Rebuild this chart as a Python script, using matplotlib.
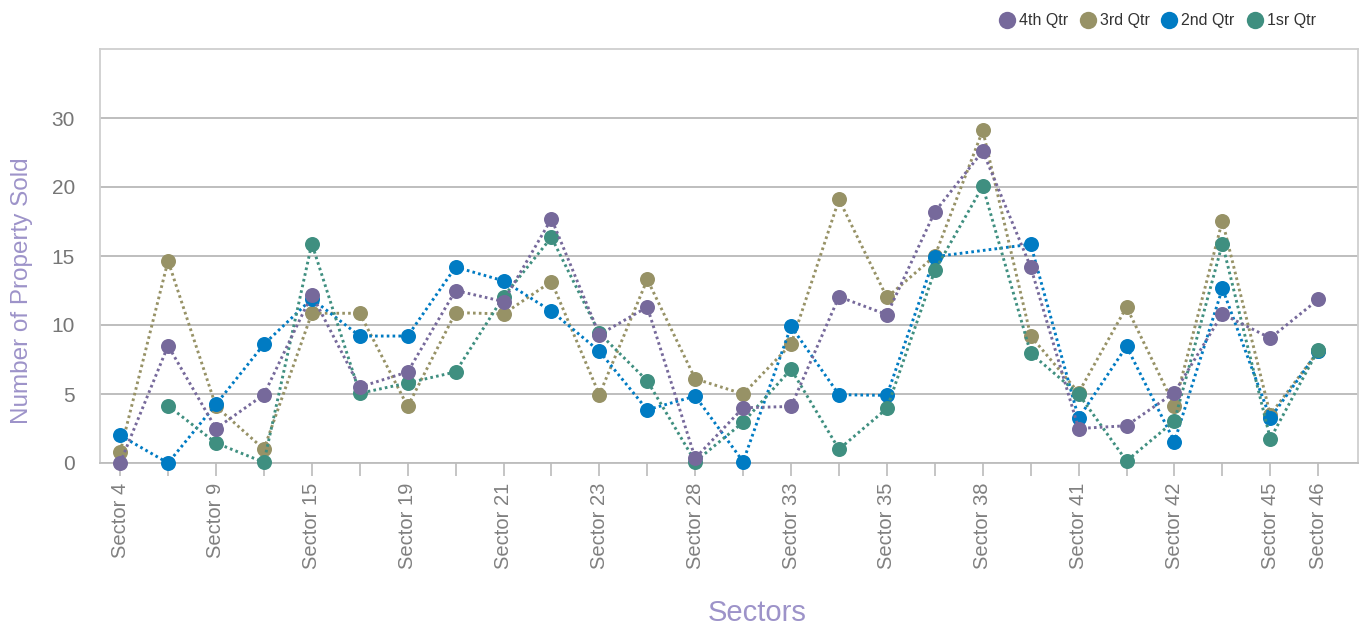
import numpy as np
import matplotlib
matplotlib.use("Agg")
import matplotlib.pyplot as plt
from matplotlib.lines import Line2D

# 26 sectors, only every other label is printed on the axis (plus the last one)
sector_labels = ["Sector 4", "", "Sector 9", "", "Sector 15", "", "Sector 19", "",
                 "Sector 21", "", "Sector 23", "", "Sector 28", "", "Sector 33", "",
                 "Sector 35", "", "Sector 38", "", "Sector 41", "", "Sector 42", "",
                 "Sector 45", "Sector 46"]

nan = np.nan
q4 = [0.0, 8.5, 2.5, 4.95, 12.2, 5.5, 6.6, 12.5, 11.7, 17.7, 9.3, 11.3, 0.35,
      4.0, 4.1, 12.05, 10.75, 18.2, 22.6, 14.2, 2.5, 2.7, 5.1, 10.8, 9.05, 11.85]
q3 = [0.8, 14.65, 4.1, 1.0, 10.85, 10.85, 4.1, 10.9, 10.8, 13.15, 4.95, 13.3, 6.1,
      5.0, 8.6, 19.1, 12.0, 15.0, 24.1, 9.2, 5.1, 11.3, 4.15, 17.55, 3.5, 8.1]
q2 = [2.0, 0.0, 4.25, 8.6, 11.9, 9.2, 9.2, 14.2, 13.2, 11.0, 8.1, 3.85, 4.85,
      0.1, 9.9, 4.95, 4.9, 14.95, nan, 15.85, 3.25, 8.45, 1.55, 12.65, 3.25, 8.1]
q1 = [nan, 4.15, 1.45, 0.05, 15.9, 5.05, 5.8, 6.6, 12.05, 16.35, 9.4, 5.95, 0.1,
      2.95, 6.8, 1.0, 3.95, 13.95, 20.05, 7.95, 5.0, 0.15, 3.05, 15.9, 1.75, 8.2]

series_names = ["4th Qtr", "3rd Qtr", "2nd Qtr", "1sr Qtr"]
series_colors = ["#76699b", "#979266", "#007bc3", "#3f8f80"]

ytick_vals = [0, 5, 10, 15, 20, 25]
ytick_text = ["0", "5", "10", "15", "20", "30"]

plt.rcParams["font.family"] = ["Liberation Sans", "DejaVu Sans"]

fig = plt.figure(figsize=(13.61, 6.26), dpi=100)
ax = fig.add_axes([100 / 1361, 1 - 463 / 626, 1258 / 1361, 414 / 626])

x = np.arange(len(sector_labels))
data = {"4th Qtr": q4, "3rd Qtr": q3, "2nd Qtr": q2, "1sr Qtr": q1}
colors = dict(zip(series_names, series_colors))

# draw order: olive, blue, teal, purple on top
for name in ["3rd Qtr", "2nd Qtr", "1sr Qtr", "4th Qtr"]:
    y = np.array(data[name], dtype=float)
    ok = ~np.isnan(y)  # missing points are skipped, line joins neighbours
    ax.plot(x[ok], y[ok], color=colors[name], linestyle=(0, (0.9, 1.1)), linewidth=2.1,
            marker="o", markersize=10.8, markeredgewidth=0, zorder=3, clip_on=False)

ax.set_xlim(-0.42, 25.83)
ax.set_ylim(0, 30)
ax.set_yticks(ytick_vals)
ax.set_yticklabels(ytick_text)
ax.set_xticks(x)
ax.set_xticklabels(sector_labels, rotation=90)

ax.grid(axis="y", color="#b9b9b9", linewidth=1.3, zorder=1)
for s in ax.spines.values():
    s.set_color("#cfcfcf")
    s.set_linewidth(1.3)
ax.spines["bottom"].set_color("#bdbdbd")
ax.tick_params(axis="y", length=0, pad=18, labelsize=15, labelcolor="#767676")
ax.tick_params(axis="x", length=9, width=1.1, color="#b5b5b5", pad=5,
               labelsize=14.5, labelcolor="#808080")

fig.text(22 / 1361, 1 - 291 / 626, "Number of Property Sold", rotation=90,
         ha="center", va="center", fontsize=17.5, color="#9d93c9")
fig.text(757 / 1361, 1 - 613 / 626, "Sectors", ha="center", va="center",
         fontsize=21, color="#9d93c9")

handles = [Line2D([], [], linestyle="none", marker="o", markersize=12.5,
                  markeredgewidth=0, color=colors[n]) for n in series_names]
fig.legend(handles, series_names, loc="center right", bbox_to_anchor=(1322 / 1361, 1 - 21 / 626),
           ncol=4, frameon=False, fontsize=11.5, handletextpad=0.25, columnspacing=0.75,
           handlelength=1.0, borderaxespad=0, labelcolor="#333333")

fig.savefig("out.png", dpi=100)
